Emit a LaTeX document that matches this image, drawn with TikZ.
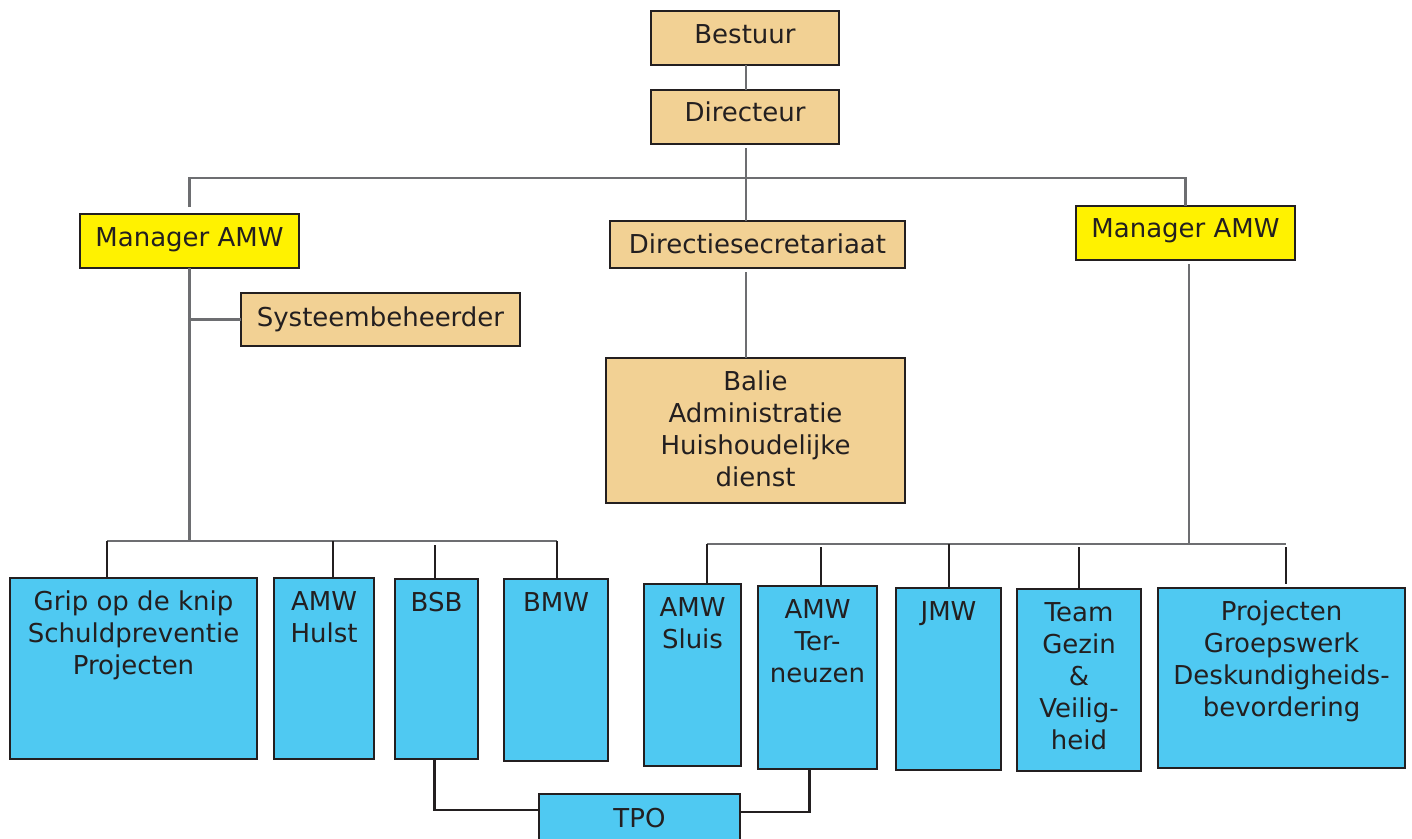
\documentclass[tikz,border=0pt]{standalone}
\usepackage{fontspec}
\setmainfont{DejaVu Sans}
\definecolor{tan}{HTML}{F2D194}
\definecolor{bluebx}{HTML}{4FC9F2}
\definecolor{yel}{HTML}{FFF200}
\definecolor{ink}{HTML}{231F20}
\definecolor{linegray}{HTML}{6D6E71}
\tikzset{
  bx/.style={draw=ink, line width=1.4pt, inner sep=0pt, outer sep=0pt},
  tanbx/.style={bx, fill=tan},
  yelbx/.style={bx, fill=yel},
  blubx/.style={bx, fill=bluebx},
  txt/.style={inner sep=0pt, font=\fontsize{26}{32}\selectfont, text=ink, align=center},
  gl/.style={draw=linegray, line width=2.5pt},
  dl/.style={draw=ink, line width=2.5pt},
}
\newcommand\cbx[8]{\node[#2, minimum width={#5-#3}, minimum height={#6-#4}, anchor=north west] (#1) at (#3,#4) {};
  \node[txt] (#1-t) at ([yshift=#8]#1.center) {#7};}
\newcommand\tbx[7]{\node[#2, minimum width={#5-#3}, minimum height={#6-#4}, anchor=north west] (#1) at (#3,#4) {};
  \node[txt, anchor=north] (#1-t) at ([yshift=-13pt]#1.north) {#7};}
\begin{document}
\begin{tikzpicture}[x=1pt,y=-1pt]
\useasboundingbox (0,0) rectangle (1412,838);
\clip (0,0) rectangle (1412,838);
% boxes
\cbx{bestuur}{tanbx}{651}{11}{839}{65}{Bestuur}{4pt}
\cbx{directeur}{tanbx}{651}{90}{839}{144}{Directeur}{5pt}
\cbx{mgrL}{yelbx}{80}{214}{299}{268}{Manager AMW}{1.5pt}
\cbx{dirsec}{tanbx}{610}{221}{905}{268}{Directiesecretariaat}{1pt}
\cbx{mgrR}{yelbx}{1076}{206}{1295}{260}{Manager AMW}{2.5pt}
\cbx{sys}{tanbx}{241}{293}{520}{346}{Systeembeheerder}{0pt}
\cbx{balie}{tanbx}{606}{358}{905}{503}{Balie\\Administratie\\Huishoudelijke\\dienst}{1.5pt}
\tbx{grip}{blubx}{10}{578}{257}{759}{Grip op de knip\\Schuldpreventie\\Projecten}
\tbx{hulst}{blubx}{274}{578}{374}{759}{AMW\\Hulst}
\tbx{bsb}{blubx}{395}{579}{478}{759}{BSB}
\tbx{bmw}{blubx}{504}{579}{608}{761}{BMW}
\tbx{sluis}{blubx}{644}{584}{741}{766}{AMW\\Sluis}
\tbx{tern}{blubx}{758}{586}{877}{769}{AMW\\Ter-\\neuzen}
\tbx{jmw}{blubx}{896}{588}{1001}{770}{JMW}
\tbx{team}{blubx}{1017}{589}{1141}{771}{Team\\Gezin\\\&\\Veilig-\\heid}
\tbx{proj}{blubx}{1158}{588}{1405}{768}{Projecten\\Groepswerk\\Deskundigheids-\\bevordering}
\node[blubx, minimum width=201pt, minimum height=56pt, anchor=north west] (tpo) at (539,794) {};
\node[txt] (tpo-t) at (639.5,818) {TPO};
% coordinates
\coordinate (topbus) at (746,178);
\coordinate (leftbus) at (188,541);
\coordinate (rightbus) at (1189,544);
\coordinate (dG) at (107,541);
\coordinate (dH) at (333,541);
\coordinate (dB) at (435,545);
\coordinate (dM) at (557,541);
\coordinate (dS) at (707,544);
\coordinate (dT) at (821,547);
\coordinate (dJ) at (949,544);
\coordinate (dV) at (1079,547);
\coordinate (dP) at (1286,547);
% top connectors
\draw[gl] (bestuur.south -| topbus) -- (directeur.north -| topbus);
\draw[gl] ([yshift=-4pt]directeur.south -| topbus) -- (dirsec.north -| topbus);
\draw[gl] ([yshift=7pt]mgrL.north) -- (mgrL.north |- topbus) -- (mgrR.north |- topbus) -- (mgrR.north);
\draw[gl] ([yshift=-4pt]dirsec.south -| topbus) -- (balie.north -| topbus);
\draw[gl] (mgrL.south) -- (mgrL.south |- leftbus);
\draw[gl] (sys.west) -- (sys.west -| mgrL.south);
\draw[gl] ([yshift=-4pt]mgrR.south -| rightbus) -- (rightbus);
% buses
\draw[gl] (dG) -- (dM);
\draw[gl] (dS) -- (dP |- dS);
% drops
\draw[dl] (dG) -- (dG |- grip.north);
\draw[dl] (dH) -- (dH |- hulst.north);
\draw[dl] (dB) -- (dB |- bsb.north);
\draw[dl] (dM) -- (dM |- bmw.north);
\draw[dl] (dS) -- (dS |- sluis.north);
\draw[dl] (dT) -- (dT |- tern.north);
\draw[dl] (dJ) -- (dJ |- jmw.north);
\draw[dl] (dV) -- (dV |- team.north);
\draw[dl] (dP) -- ([yshift=4pt]dP |- proj.north);
% TPO links
\draw[dl] ([xshift=-2pt]bsb.south) |- ([yshift=-16pt]tpo.north west);
\draw[dl] ([xshift=-8pt]tern.south) |- ([yshift=-18pt]tpo.north east);
\end{tikzpicture}
\end{document}
